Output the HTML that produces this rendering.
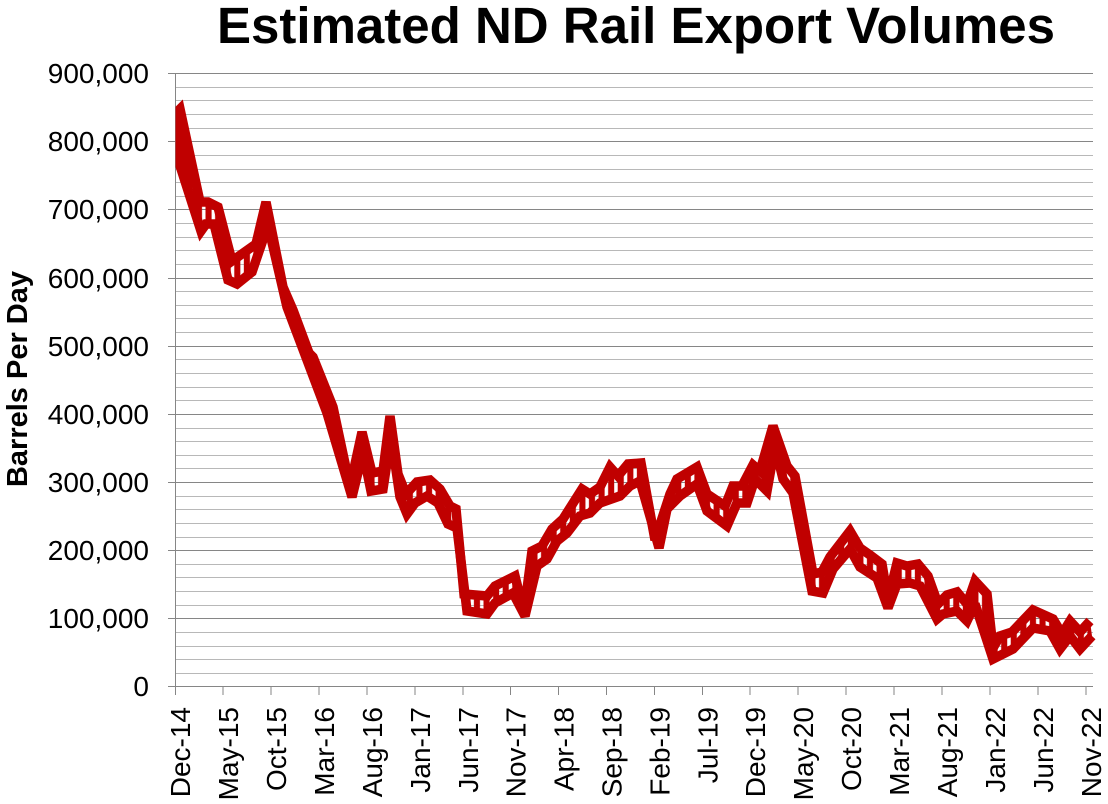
<!DOCTYPE html>
<html><head><meta charset="utf-8"><style>
html,body{margin:0;padding:0;background:#fff;}
svg{display:block;}
text{font-family:"Liberation Sans",Arial,sans-serif;}
</style></head><body>
<svg width="1108" height="804" viewBox="0 0 1108 804" xmlns="http://www.w3.org/2000/svg">
<defs>
<pattern id="st" patternUnits="userSpaceOnUse" x="175" y="0" width="9.586" height="804"><rect x="1.75" y="0" width="6.086" height="804" fill="#C00000"/></pattern>
<clipPath id="pc"><rect x="175.5" y="60" width="930" height="640"/></clipPath>
</defs>
<rect width="1108" height="804" fill="#fff"/>
<text x="636" y="43" font-size="51" font-weight="bold" text-anchor="middle" fill="#000">Estimated ND Rail Export Volumes</text>
<g shape-rendering="crispEdges" fill="none">
<path stroke="#b8b8b8" stroke-width="1" d="M175 673.5H1093M175 659.5H1093M175 646.5H1093M175 632.5H1093M175 605.5H1093M175 591.5H1093M175 577.5H1093M175 564.5H1093M175 537.5H1093M175 523.5H1093M175 509.5H1093M175 496.5H1093M175 468.5H1093M175 455.5H1093M175 441.5H1093M175 428.5H1093M175 400.5H1093M175 387.5H1093M175 373.5H1093M175 359.5H1093M175 332.5H1093M175 318.5H1093M175 305.5H1093M175 291.5H1093M175 264.5H1093M175 250.5H1093M175 237.5H1093M175 223.5H1093M175 196.5H1093M175 182.5H1093M175 169.5H1093M175 155.5H1093M175 128.5H1093M175 114.5H1093M175 100.5H1093M175 87.5H1093"/>
<path stroke="#868686" stroke-width="1" d="M168 618.5H1093M168 550.5H1093M168 482.5H1093M168 414.5H1093M168 346.5H1093M168 278.5H1093M168 209.5H1093M168 141.5H1093M168 73.5H1093"/>
<path stroke="#868686" stroke-width="1.2" d="M175.5 73V687M168 686.5H1093"/>
<path stroke="#868686" stroke-width="1.2" d="M175.5 686V695M223 686V695M271 686V695M319 686V695M367 686V695M415 686V695M463 686V695M510.5 686V695M558.5 686V695M606.5 686V695M654.5 686V695M702.5 686V695M750 686V695M798 686V695M846 686V695M894 686V695M942 686V695M990 686V695M1038 686V695M1086 686V695"/>
</g>
<g font-size="28" fill="#000" text-anchor="end">
<text x="149" y="83">900,000</text>
<text x="149" y="151">800,000</text>
<text x="149" y="219">700,000</text>
<text x="149" y="288">600,000</text>
<text x="149" y="356">500,000</text>
<text x="149" y="424">400,000</text>
<text x="149" y="492">300,000</text>
<text x="149" y="560">200,000</text>
<text x="149" y="628">100,000</text>
<text x="149" y="696">0</text>
</g>
<text transform="translate(27,379) rotate(-90)" font-size="29" font-weight="bold" text-anchor="middle" fill="#000">Barrels Per Day</text>
<g font-size="28" fill="#000" text-anchor="end">
<text transform="translate(190,707) rotate(-90)">Dec-14</text>
<text transform="translate(238,707) rotate(-90)">May-15</text>
<text transform="translate(286,707) rotate(-90)">Oct-15</text>
<text transform="translate(334,707) rotate(-90)">Mar-16</text>
<text transform="translate(382,707) rotate(-90)">Aug-16</text>
<text transform="translate(430,707) rotate(-90)">Jan-17</text>
<text transform="translate(478,707) rotate(-90)">Jun-17</text>
<text transform="translate(525.5,707) rotate(-90)">Nov-17</text>
<text transform="translate(573.5,707) rotate(-90)">Apr-18</text>
<text transform="translate(621.5,707) rotate(-90)">Sep-18</text>
<text transform="translate(669.5,707) rotate(-90)">Feb-19</text>
<text transform="translate(717.5,707) rotate(-90)">Jul-19</text>
<text transform="translate(765,707) rotate(-90)">Dec-19</text>
<text transform="translate(813,707) rotate(-90)">May-20</text>
<text transform="translate(861,707) rotate(-90)">Oct-20</text>
<text transform="translate(909,707) rotate(-90)">Mar-21</text>
<text transform="translate(957,707) rotate(-90)">Aug-21</text>
<text transform="translate(1005,707) rotate(-90)">Jan-22</text>
<text transform="translate(1053,707) rotate(-90)">Jun-22</text>
<text transform="translate(1101,707) rotate(-90)">Nov-22</text>
</g>
<g clip-path="url(#pc)">
<polygon fill="url(#st)" points="175,114 180,109 200,202 208,202 218,207 232,261 256,244 266,202 283,287 293,310 309,353 313,357 333,407 350,487 362,432 372,473 383,471 390,416 398,474 406,494 417,482 430,480 440,489 450,506 456,509 464,594 487,596 495,586 515,576 524,612 532,551 542,546 552,529 563,519 582,489 590,494 600,487 610,467 618,476 628,464 641,463 655,540 670,494 677,479 697,467 707,494 725,506 733,486 742,486 753,465 760,471 773,426 787,466 795,476 813,574 822,572 830,557 850,531 860,548 870,555 882,564 888,600 897,563 907,566 918,564 928,576 938,604 947,595 957,592 967,604 975,581 987,594 993,648 1000,636 1012,632 1033,610 1053,619 1062,634 1070,621 1080,632 1090,621 1092,636 1080,649 1070,636 1060,649 1050,631 1033,628 1013,649 1003,654 993,659 975,604 967,621 957,611 943,614 937,619 920,586 910,583 897,584 888,608 877,578 860,567 850,549 833,569 823,593 812,591 793,493 783,479 775,446 767,491 755,479 747,503 737,503 727,526 707,511 697,484 680,496 667,509 659,548 640,481 630,486 620,496 600,503 590,513 580,516 567,533 557,541 547,559 537,566 525,616 513,593 495,603 487,614 467,611 457,528 448,524 438,503 427,496 415,503 407,514 400,497 391,436 383,489 371,491 363,452 352,497 327,413 307,360 287,307 268,225 252,272 237,284 228,280 214,224 206,224 201,231 175,150"/>
<polygon fill="#C00000" points="175,110 180,105 187,135 190,190 182,168 175,164"/>
<g fill="none" stroke="#C00000" stroke-width="9.5" stroke-linejoin="miter" stroke-miterlimit="2.5" stroke-linecap="butt">
<polyline points="175,114 180,109 200,202 208,202 218,207 232,261 256,244 266,202 283,287 293,310 309,353 313,357 333,407 350,487 362,432 372,473 383,471 390,416 398,474 406,494 417,482 430,480 440,489 450,506 456,509 464,594 487,596 495,586 515,576 524,612 532,551 542,546 552,529 563,519 582,489 590,494 600,487 610,467 618,476 628,464 641,463 655,540 670,494 677,479 697,467 707,494 725,506 733,486 742,486 753,465 760,471 773,426 787,466 795,476 813,574 822,572 830,557 850,531 860,548 870,555 882,564 888,600 897,563 907,566 918,564 928,576 938,604 947,595 957,592 967,604 975,581 987,594 993,648 1000,636 1012,632 1033,610 1053,619 1062,634 1070,621 1080,632 1090,621"/>
<polyline points="175,150 201,231 206,224 214,224 228,280 237,284 252,272 268,225 287,307 307,360 327,413 352,497 363,452 371,491 383,489 391,436 400,497 407,514 415,503 427,496 438,503 448,524 457,528 467,611 487,614 495,603 513,593 525,616 537,566 547,559 557,541 567,533 580,516 590,513 600,503 620,496 630,486 640,481 659,548 667,509 680,496 697,484 707,511 727,526 737,503 747,503 755,479 767,491 775,446 783,479 793,493 812,591 823,593 833,569 850,549 860,567 877,578 888,608 897,584 910,583 920,586 937,619 943,614 957,611 967,621 975,604 993,659 1003,654 1013,649 1033,628 1050,631 1060,649 1070,636 1080,649 1092,636"/>
</g>
</g>
</svg>
</body></html>
